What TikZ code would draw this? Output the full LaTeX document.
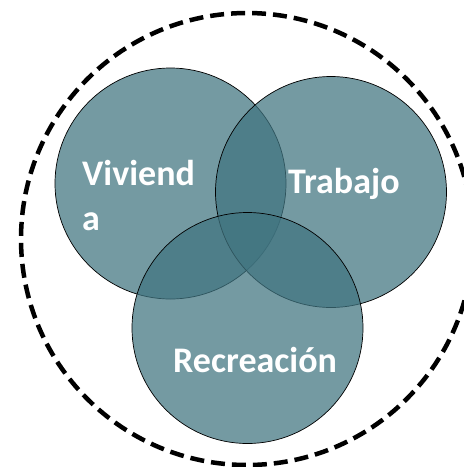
\documentclass[tikz,border=0pt]{standalone}
\usepackage{fontspec}
\setmainfont{Carlito}
\definecolor{bubblefill}{RGB}{64,116,128}
\begin{document}
\begin{tikzpicture}[%
        x=1pt, y=-1pt,
        bubble/.style={shape=circle, draw=black, line width=0.7pt, fill=bubblefill, fill opacity=0.73, inner sep=0pt, minimum size=231pt},
        bubbletext/.style={text=white, font=\bfseries\fontsize{36}{45}\selectfont, inner sep=0pt, anchor=base west, align=left}
    ]
    \clip (0,0) rectangle (464,467);
    % outer dashed ring
    \node (ring) at (247,239) [shape=circle, draw=black, line width=4.5pt, dash pattern=on 14pt off 7pt, inner sep=0pt, minimum size=452pt] {};
    % the three sets
    \node (vivienda) at (170.5,183.5) [bubble] {};
    \node (trabajo) at (331,192) [bubble] {};
    \node (recreacion) at (247.5,328) [bubble] {};
    % labels
    \node (vivlabel) at (82,230) [bubbletext] {Viviend\\a};
    \node (trablabel) at (288,193) [bubbletext] {Trabajo};
    \node (reclabel) at (173,372) [bubbletext] {Recreación};
\end{tikzpicture}
\end{document}
